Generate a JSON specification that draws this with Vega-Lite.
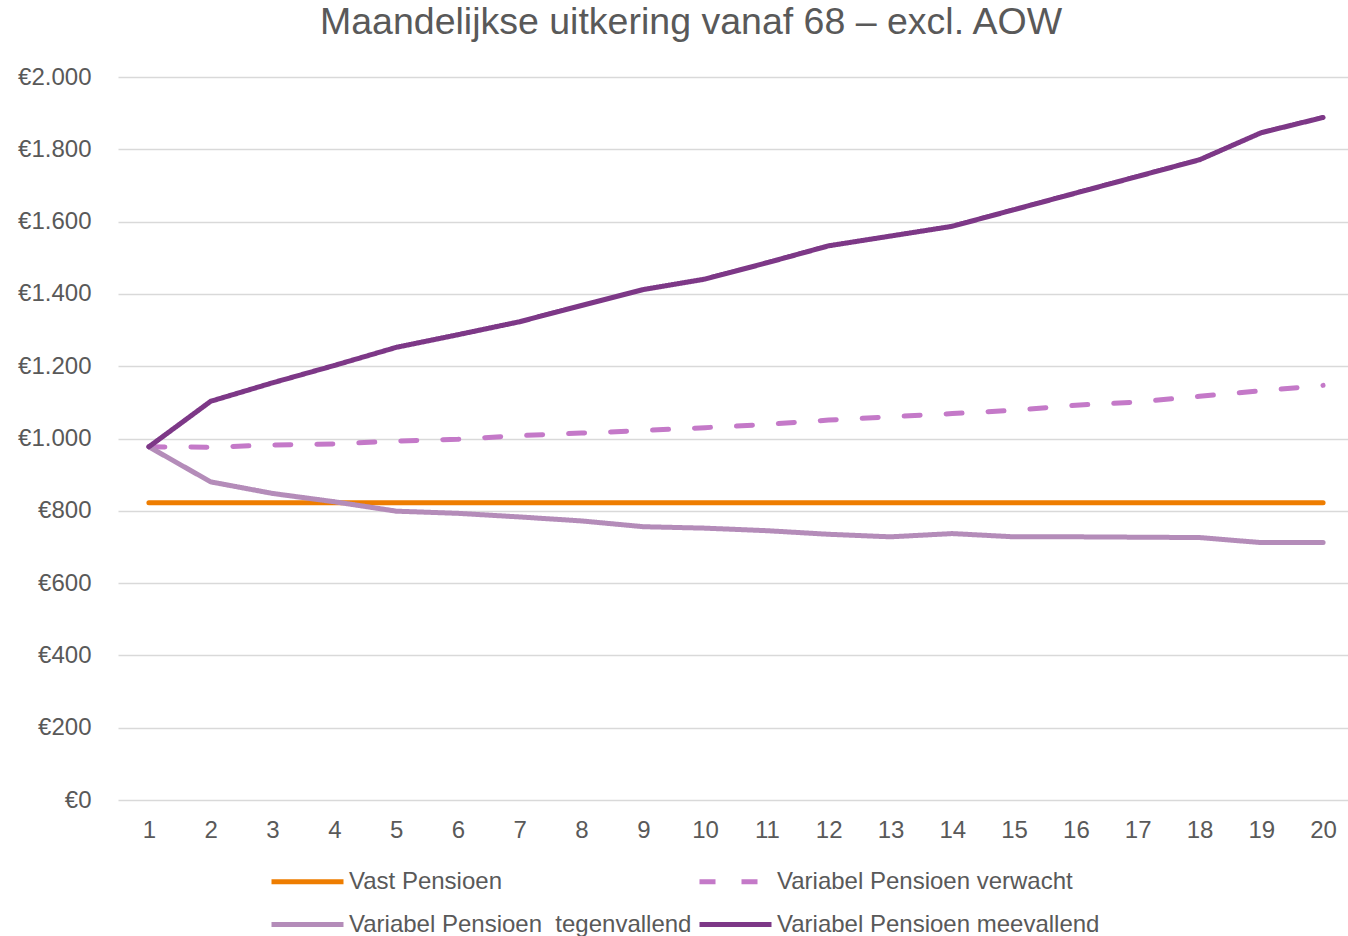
{
  "$schema": "https://vega.github.io/schema/vega-lite/v6.json",
  "width": 1236,
  "height": 723,
  "autosize": {"type": "none"},
  "padding": {"left": 118, "top": 77, "right": 0, "bottom": 136},
  "background": "white",
  "title": {"text": "Maandelijkse uitkering vanaf 68 – excl. AOW", "fontSize": 37.5, "font": "Liberation Sans", "fontWeight": "normal", "color": "#595959", "anchor": "middle", "dx": -45, "offset": 24},
  "config": {"view": {"stroke": null}, "font": "Liberation Sans"},
  "data": {"values": [
    {"jaar": 1, "serie": "Vast Pensioen", "bedrag": 822},
    {"jaar": 2, "serie": "Vast Pensioen", "bedrag": 822},
    {"jaar": 3, "serie": "Vast Pensioen", "bedrag": 822},
    {"jaar": 4, "serie": "Vast Pensioen", "bedrag": 822},
    {"jaar": 5, "serie": "Vast Pensioen", "bedrag": 822},
    {"jaar": 6, "serie": "Vast Pensioen", "bedrag": 822},
    {"jaar": 7, "serie": "Vast Pensioen", "bedrag": 822},
    {"jaar": 8, "serie": "Vast Pensioen", "bedrag": 822},
    {"jaar": 9, "serie": "Vast Pensioen", "bedrag": 822},
    {"jaar": 10, "serie": "Vast Pensioen", "bedrag": 822},
    {"jaar": 11, "serie": "Vast Pensioen", "bedrag": 822},
    {"jaar": 12, "serie": "Vast Pensioen", "bedrag": 822},
    {"jaar": 13, "serie": "Vast Pensioen", "bedrag": 822},
    {"jaar": 14, "serie": "Vast Pensioen", "bedrag": 822},
    {"jaar": 15, "serie": "Vast Pensioen", "bedrag": 822},
    {"jaar": 16, "serie": "Vast Pensioen", "bedrag": 822},
    {"jaar": 17, "serie": "Vast Pensioen", "bedrag": 822},
    {"jaar": 18, "serie": "Vast Pensioen", "bedrag": 822},
    {"jaar": 19, "serie": "Vast Pensioen", "bedrag": 822},
    {"jaar": 20, "serie": "Vast Pensioen", "bedrag": 822},
    {"jaar": 1, "serie": "Variabel Pensioen verwacht", "bedrag": 977},
    {"jaar": 2, "serie": "Variabel Pensioen verwacht", "bedrag": 976},
    {"jaar": 3, "serie": "Variabel Pensioen verwacht", "bedrag": 982},
    {"jaar": 4, "serie": "Variabel Pensioen verwacht", "bedrag": 985},
    {"jaar": 5, "serie": "Variabel Pensioen verwacht", "bedrag": 993},
    {"jaar": 6, "serie": "Variabel Pensioen verwacht", "bedrag": 998},
    {"jaar": 7, "serie": "Variabel Pensioen verwacht", "bedrag": 1008},
    {"jaar": 8, "serie": "Variabel Pensioen verwacht", "bedrag": 1015},
    {"jaar": 9, "serie": "Variabel Pensioen verwacht", "bedrag": 1022},
    {"jaar": 10, "serie": "Variabel Pensioen verwacht", "bedrag": 1030},
    {"jaar": 11, "serie": "Variabel Pensioen verwacht", "bedrag": 1039},
    {"jaar": 12, "serie": "Variabel Pensioen verwacht", "bedrag": 1051},
    {"jaar": 13, "serie": "Variabel Pensioen verwacht", "bedrag": 1060},
    {"jaar": 14, "serie": "Variabel Pensioen verwacht", "bedrag": 1069},
    {"jaar": 15, "serie": "Variabel Pensioen verwacht", "bedrag": 1078},
    {"jaar": 16, "serie": "Variabel Pensioen verwacht", "bedrag": 1092},
    {"jaar": 17, "serie": "Variabel Pensioen verwacht", "bedrag": 1101},
    {"jaar": 18, "serie": "Variabel Pensioen verwacht", "bedrag": 1117},
    {"jaar": 19, "serie": "Variabel Pensioen verwacht", "bedrag": 1132},
    {"jaar": 20, "serie": "Variabel Pensioen verwacht", "bedrag": 1147},
    {"jaar": 1, "serie": "Variabel Pensioen  tegenvallend", "bedrag": 977},
    {"jaar": 2, "serie": "Variabel Pensioen  tegenvallend", "bedrag": 880},
    {"jaar": 3, "serie": "Variabel Pensioen  tegenvallend", "bedrag": 848},
    {"jaar": 4, "serie": "Variabel Pensioen  tegenvallend", "bedrag": 825},
    {"jaar": 5, "serie": "Variabel Pensioen  tegenvallend", "bedrag": 799},
    {"jaar": 6, "serie": "Variabel Pensioen  tegenvallend", "bedrag": 793},
    {"jaar": 7, "serie": "Variabel Pensioen  tegenvallend", "bedrag": 783},
    {"jaar": 8, "serie": "Variabel Pensioen  tegenvallend", "bedrag": 772},
    {"jaar": 9, "serie": "Variabel Pensioen  tegenvallend", "bedrag": 756},
    {"jaar": 10, "serie": "Variabel Pensioen  tegenvallend", "bedrag": 752},
    {"jaar": 11, "serie": "Variabel Pensioen  tegenvallend", "bedrag": 745},
    {"jaar": 12, "serie": "Variabel Pensioen  tegenvallend", "bedrag": 735},
    {"jaar": 13, "serie": "Variabel Pensioen  tegenvallend", "bedrag": 728},
    {"jaar": 14, "serie": "Variabel Pensioen  tegenvallend", "bedrag": 737},
    {"jaar": 15, "serie": "Variabel Pensioen  tegenvallend", "bedrag": 728},
    {"jaar": 16, "serie": "Variabel Pensioen  tegenvallend", "bedrag": 728},
    {"jaar": 17, "serie": "Variabel Pensioen  tegenvallend", "bedrag": 727},
    {"jaar": 18, "serie": "Variabel Pensioen  tegenvallend", "bedrag": 726},
    {"jaar": 19, "serie": "Variabel Pensioen  tegenvallend", "bedrag": 712},
    {"jaar": 20, "serie": "Variabel Pensioen  tegenvallend", "bedrag": 712},
    {"jaar": 1, "serie": "Variabel Pensioen meevallend", "bedrag": 977},
    {"jaar": 2, "serie": "Variabel Pensioen meevallend", "bedrag": 1103},
    {"jaar": 3, "serie": "Variabel Pensioen meevallend", "bedrag": 1154},
    {"jaar": 4, "serie": "Variabel Pensioen meevallend", "bedrag": 1202},
    {"jaar": 5, "serie": "Variabel Pensioen meevallend", "bedrag": 1252},
    {"jaar": 6, "serie": "Variabel Pensioen meevallend", "bedrag": 1287},
    {"jaar": 7, "serie": "Variabel Pensioen meevallend", "bedrag": 1323},
    {"jaar": 8, "serie": "Variabel Pensioen meevallend", "bedrag": 1368},
    {"jaar": 9, "serie": "Variabel Pensioen meevallend", "bedrag": 1412},
    {"jaar": 10, "serie": "Variabel Pensioen meevallend", "bedrag": 1441},
    {"jaar": 11, "serie": "Variabel Pensioen meevallend", "bedrag": 1486},
    {"jaar": 12, "serie": "Variabel Pensioen meevallend", "bedrag": 1533},
    {"jaar": 13, "serie": "Variabel Pensioen meevallend", "bedrag": 1560},
    {"jaar": 14, "serie": "Variabel Pensioen meevallend", "bedrag": 1587},
    {"jaar": 15, "serie": "Variabel Pensioen meevallend", "bedrag": 1633},
    {"jaar": 16, "serie": "Variabel Pensioen meevallend", "bedrag": 1679},
    {"jaar": 17, "serie": "Variabel Pensioen meevallend", "bedrag": 1725},
    {"jaar": 18, "serie": "Variabel Pensioen meevallend", "bedrag": 1771},
    {"jaar": 19, "serie": "Variabel Pensioen meevallend", "bedrag": 1846},
    {"jaar": 20, "serie": "Variabel Pensioen meevallend", "bedrag": 1888}
  ]},
  "mark": {"type": "line", "strokeWidth": 5, "strokeCap": "round", "strokeJoin": "round"},
  "encoding": {
    "x": {
      "field": "jaar", "type": "ordinal",
      "scale": {"type": "point", "padding": 0.5},
      "axis": {"title": null, "labelAngle": 0, "labelFontSize": 24, "labelColor": "#595959", "labelFont": "Liberation Sans", "ticks": false, "domain": false, "grid": false, "labelPadding": 18}
    },
    "y": {
      "field": "bedrag", "type": "quantitative",
      "scale": {"domain": [0, 2000], "nice": false},
      "axis": {"title": null, "values": [0, 200, 400, 600, 800, 1000, 1200, 1400, 1600, 1800, 2000], "labelExpr": "'€' + replace(format(datum.value, ','), ',', '.')", "labelFontSize": 24, "labelColor": "#595959", "labelFont": "Liberation Sans", "ticks": false, "domain": false, "grid": true, "gridColor": "#D9D9D9", "gridWidth": 1.5, "labelPadding": 27}
    },
    "color": {
      "field": "serie", "type": "nominal",
      "scale": {"domain": ["Vast Pensioen", "Variabel Pensioen verwacht", "Variabel Pensioen  tegenvallend", "Variabel Pensioen meevallend"], "range": ["#EE7D00", "#C479C8", "#B48CB9", "#7D3887"]},
      "legend": {"title": null, "orient": "none", "direction": "horizontal", "legendX": 175, "legendY": 790, "columns": 2, "columnPadding": -3, "rowPadding": 16, "symbolType": "M-3,0H3", "symbolSize": 576, "symbolStrokeWidth": 5, "labelFontSize": 24, "labelColor": "#595959", "labelFont": "Liberation Sans", "labelOffset": 27, "labelLimit": 500, "padding": 0, "labelExpr": "replace(datum.label, '  ', ' \u00a0')"}
    },
    "strokeDash": {
      "field": "serie", "type": "nominal",
      "scale": {"domain": ["Vast Pensioen", "Variabel Pensioen verwacht", "Variabel Pensioen  tegenvallend", "Variabel Pensioen meevallend"], "range": [[1, 0], [16, 26], [1, 0], [1, 0]]}
    }
  }
}
